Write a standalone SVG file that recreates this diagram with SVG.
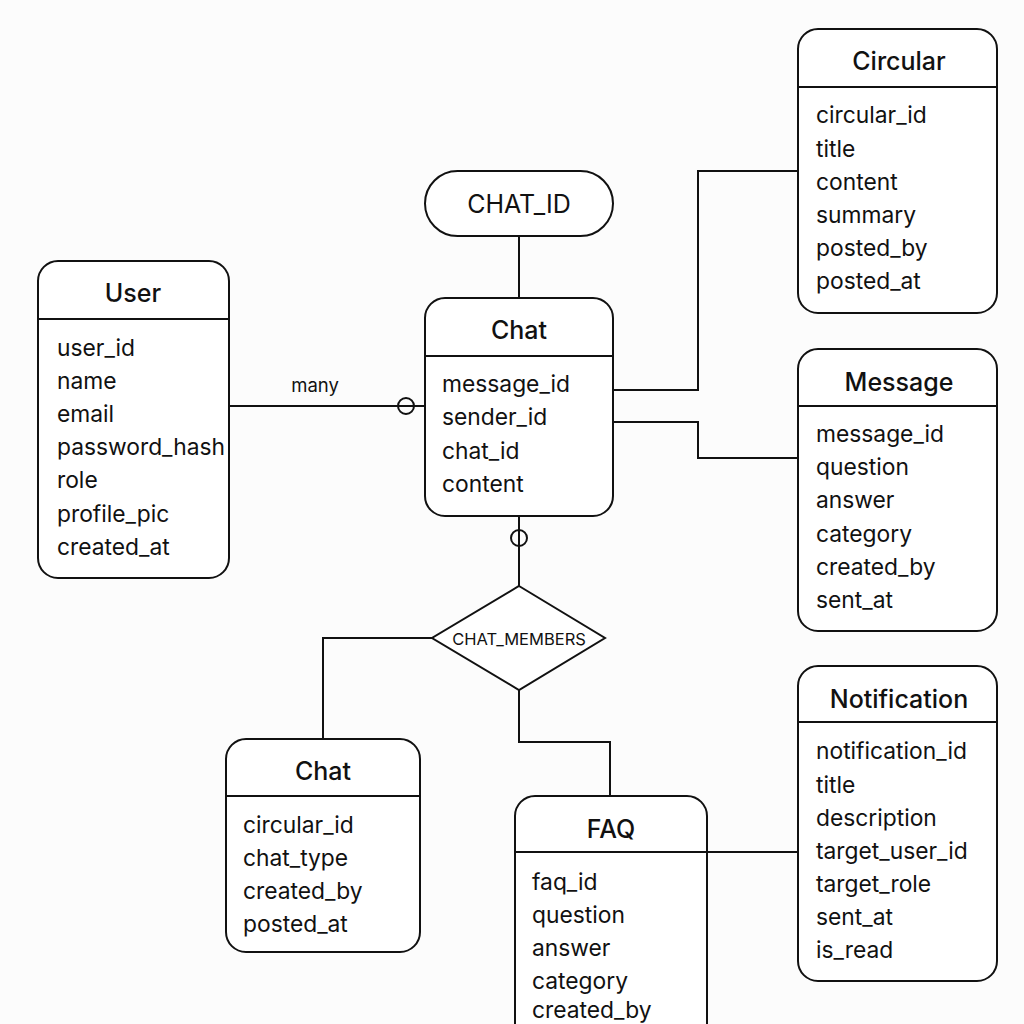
<svg xmlns="http://www.w3.org/2000/svg" width="1024" height="1024" viewBox="0 0 1024 1024">
<style>
.box{fill:#fff;stroke:#111;stroke-width:2}
.div{stroke:#111;stroke-width:2}
.ttl{font-family:Inter,"Noto Sans",sans-serif;font-size:25px;font-weight:500;fill:#111;text-anchor:middle;dominant-baseline:central}
.att{font-family:Inter,"Noto Sans",sans-serif;font-size:22.8px;fill:#111;dominant-baseline:central}
.con{fill:none;stroke:#111;stroke-width:2}
.lbl{font-family:Inter,"Noto Sans",sans-serif;font-size:18.5px;fill:#111;text-anchor:middle;dominant-baseline:central}
</style>
<rect width="1024" height="1024" fill="#fcfcfc"/>
<g id="connectors">
<line class="con" x1="519" y1="236" x2="519" y2="298"/>
<line class="con" x1="229" y1="406" x2="425" y2="406"/>
<text class="lbl" x="315" y="385">many</text>
<circle cx="406" cy="406" r="8" fill="none" stroke="#111" stroke-width="2"/>
<line class="con" x1="519" y1="516" x2="519" y2="586"/>
<circle cx="519" cy="538" r="8" fill="#fcfcfc" stroke="#111" stroke-width="2"/>
<line class="con" x1="519" y1="530" x2="519" y2="546"/>
<polyline class="con" points="432,638 323,638 323,739"/>
<polyline class="con" points="519,690 519,742 610,742 610,796"/>
<line class="con" x1="707" y1="852" x2="798" y2="852"/>
<polyline class="con" points="613,390 698,390 698,171 798,171"/>
<polyline class="con" points="613,422 698,422 698,458 798,458"/>
</g>
<g id="chat_id">
<rect class="box" x="425" y="171" width="188" height="65" rx="32.5"/>
<text class="ttl" x="519" y="204" style="font-weight:400">CHAT_ID</text>
</g>
<g id="chat_members">
<polygon class="box" points="519,586 605,638 519,690 432,638"/>
<text class="lbl" x="519" y="639" style="font-size:16.5px">CHAT_MEMBERS</text>
</g>
<g id="user">
<rect class="box" x="38" y="261" width="191" height="317" rx="20"/>
<line class="div" x1="38" y1="319" x2="229" y2="319"/>
<text class="ttl" x="133" y="293">User</text>
<text class="att" x="57" y="347">user_id</text>
<text class="att" x="57" y="380">name</text>
<text class="att" x="57" y="413">email</text>
<text class="att" x="57" y="446">password_hash</text>
<text class="att" x="57" y="479">role</text>
<text class="att" x="57" y="513">profile_pic</text>
<text class="att" x="57" y="546">created_at</text>
</g>
<g id="chat">
<rect class="box" x="425" y="298" width="188" height="218" rx="20"/>
<line class="div" x1="425" y1="356" x2="613" y2="356"/>
<text class="ttl" x="519" y="330">Chat</text>
<text class="att" x="442" y="383">message_id</text>
<text class="att" x="442" y="416">sender_id</text>
<text class="att" x="442" y="450">chat_id</text>
<text class="att" x="442" y="483">content</text>
</g>
<g id="circular">
<rect class="box" x="798" y="29" width="199" height="284" rx="20"/>
<line class="div" x1="798" y1="87" x2="997" y2="87"/>
<text class="ttl" x="899" y="61">Circular</text>
<text class="att" x="816" y="114">circular_id</text>
<text class="att" x="816" y="148">title</text>
<text class="att" x="816" y="181">content</text>
<text class="att" x="816" y="214">summary</text>
<text class="att" x="816" y="247">posted_by</text>
<text class="att" x="816" y="280">posted_at</text>
</g>
<g id="message">
<rect class="box" x="798" y="349" width="199" height="282" rx="20"/>
<line class="div" x1="798" y1="406" x2="997" y2="406"/>
<text class="ttl" x="899" y="382">Message</text>
<text class="att" x="816" y="433">message_id</text>
<text class="att" x="816" y="466">question</text>
<text class="att" x="816" y="499">answer</text>
<text class="att" x="816" y="533">category</text>
<text class="att" x="816" y="566">created_by</text>
<text class="att" x="816" y="599">sent_at</text>
</g>
<g id="notification">
<rect class="box" x="798" y="666" width="199" height="315" rx="20"/>
<line class="div" x1="798" y1="722" x2="997" y2="722"/>
<text class="ttl" x="899" y="699">Notification</text>
<text class="att" x="816" y="750">notification_id</text>
<text class="att" x="816" y="784">title</text>
<text class="att" x="816" y="817">description</text>
<text class="att" x="816" y="850">target_user_id</text>
<text class="att" x="816" y="883">target_role</text>
<text class="att" x="816" y="916">sent_at</text>
<text class="att" x="816" y="949">is_read</text>
</g>
<g id="chat2">
<rect class="box" x="226" y="739" width="194" height="213" rx="20"/>
<line class="div" x1="226" y1="796" x2="420" y2="796"/>
<text class="ttl" x="323" y="771">Chat</text>
<text class="att" x="243" y="824">circular_id</text>
<text class="att" x="243" y="857">chat_type</text>
<text class="att" x="243" y="890">created_by</text>
<text class="att" x="243" y="923">posted_at</text>
</g>
<g id="faq">
<rect class="box" x="515" y="796" width="192" height="260" rx="20"/>
<line class="div" x1="515" y1="852" x2="707" y2="852"/>
<text class="ttl" x="611" y="829">FAQ</text>
<text class="att" x="532" y="881">faq_id</text>
<text class="att" x="532" y="914">question</text>
<text class="att" x="532" y="947">answer</text>
<text class="att" x="532" y="980">category</text>
<text class="att" x="532" y="1009">created_by</text>
</g>
</svg>
